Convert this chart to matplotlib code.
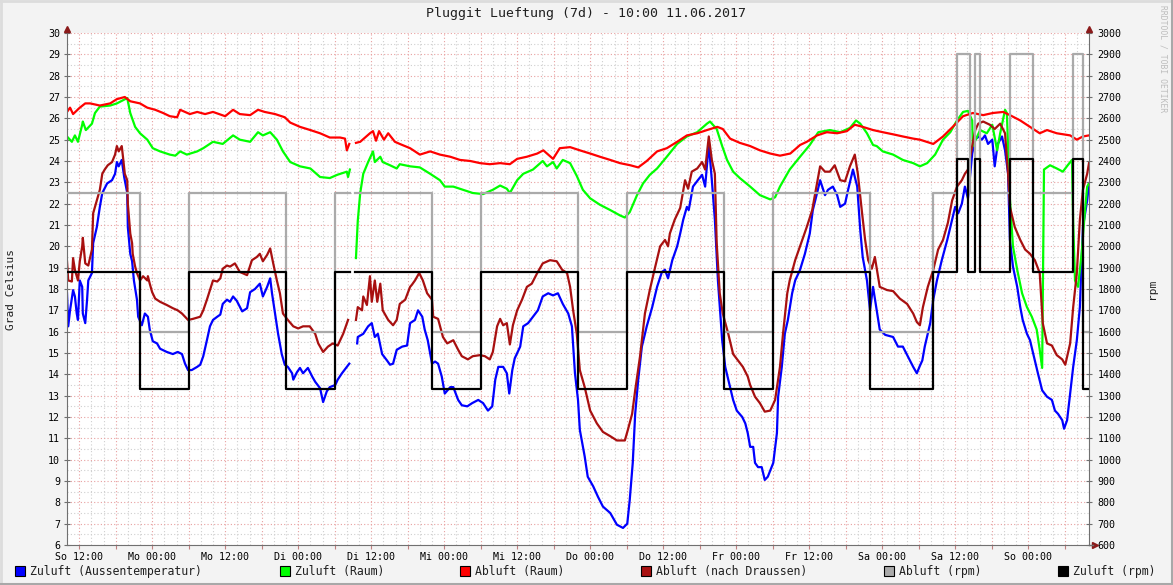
import numpy as np
import matplotlib
matplotlib.use('Agg')
import matplotlib.pyplot as plt
from matplotlib.patches import Rectangle
from matplotlib.lines import Line2D

nan = np.nan

# time axis: hours since So 04.06.2017 10:00 (7 days, 168 h)
tick_labels = ['So 12:00', 'Mo 00:00', 'Mo 12:00', 'Di 00:00', 'Di 12:00', 'Mi 00:00', 'Mi 12:00',
               'Do 00:00', 'Do 12:00', 'Fr 00:00', 'Fr 12:00', 'Sa 00:00', 'Sa 12:00', 'So 00:00']

# Zuluft (Aussentemperatur) in Grad Celsius
blue_t = [0, 0.2, 0.5, 1.0, 1.3, 1.6, 1.8, 2.1, 2.5, 2.6,
          3.0, 3.3, 3.5, 4.1, 4.3, 4.9, 5.4, 5.8, 6.6, 7.4,
          7.9, 8.2, 8.5, 9.0, 9.4, 9.9, 10.0, 10.4, 10.7, 11.0,
          11.5, 11.7, 12.3, 12.8, 13.3, 13.6, 14.1, 14.8, 15.3, 16.4,
          17.4, 18.2, 18.9, 19.4, 19.9, 20.5, 21.4, 21.9, 22.4, 23.0,
          23.5, 24.0, 24.7, 25.2, 25.6, 26.3, 26.8, 27.3, 27.9, 28.8,
          29.6, 30.1, 30.9, 31.7, 32.2, 32.9, 33.4, 33.7, 34.2, 34.7,
          35.3, 35.8, 36.3, 37.0, 37.2, 37.8, 38.3, 38.8, 39.6, 40.3,
          40.8, 41.6, 42.1, 42.7, 43.2, 44.1, 44.5, 45.2, 46.0, 46.4,
          47.0, 47.7, 47.8, 48.7, 49.5, 50.1, 50.6, 51.1, 51.8, 52.6,
          53.1, 53.6, 54.2, 55.1, 55.9, 56.4, 57.2, 57.7, 58.4, 58.8,
          59.3, 60.0, 60.5, 61.0, 61.6, 62.1, 63.0, 63.5, 64.3, 64.9,
          65.8, 66.6, 67.6, 68.4, 69.2, 69.9, 70.4, 70.9, 71.7, 72.3,
          72.7, 73.2, 73.6, 74.5, 75.0, 75.8, 76.6, 77.4, 78.2, 79.1,
          79.9, 80.7, 81.5, 82.4, 83.0, 83.5, 84.0, 84.3, 85.1, 85.6,
          86.5, 87.3, 88.1, 89.3, 90.4, 91.4, 92.1, 92.5, 93.0, 93.4,
          93.9, 94.5, 95.3, 96.2, 97.0, 97.8, 98.3, 98.8, 99.5, 100.3,
          100.8, 101.3, 101.9, 102.2, 102.9, 103.7, 104.4, 104.9, 105.5, 106.0,
          106.5, 107.0, 107.7, 108.2, 108.7, 109.5, 110.1, 111.0, 111.5, 111.9,
          112.3, 112.8, 113.1, 113.6, 114.2, 114.7, 115.2, 116.1, 116.7, 116.9,
          117.5, 118.0, 118.5, 119.2, 119.7, 120.5, 121.3, 122.1, 122.6, 123.3,
          123.8, 124.6, 125.1, 125.9, 126.6, 127.1, 127.9, 128.4, 129.2, 129.9,
          130.4, 130.8, 131.5, 132.0, 132.5, 133.1, 133.6, 134.5, 135.8, 136.6,
          137.4, 138.2, 139.1, 139.7, 140.2, 140.6, 141.0, 141.9, 142.4, 143.0,
          143.8, 144.7, 145.5, 146.0, 146.5, 147.1, 147.6, 148.1, 148.8, 149.3,
          149.8, 150.4, 150.9, 151.4, 152.1, 152.5, 153.0, 153.7, 154.2, 154.7,
          155.0, 155.5, 156.2, 156.7, 157.1, 157.8, 158.3, 159.1, 159.6, 160.3,
          161.1, 161.9, 162.4, 162.9, 163.6, 163.9, 164.4, 164.9, 165.4, 166.0,
          166.5, 167.0, 167.7, 168.0]
blue = [17.8, 16.25, 17.0, 17.95, 17.65, 16.85, 16.55, 18.4, 18.1, 16.85,
        16.4, 17.5, 18.4, 18.75, 20.15, 20.9, 21.85, 22.5, 22.95, 23.1,
        23.4, 23.95, 23.75, 24.05, 23.25, 22.5, 20.9, 19.65, 19.3, 18.4,
        17.5, 16.7, 16.3, 16.85, 16.7, 16.1, 15.55, 15.45, 15.2, 15.05,
        14.95, 15.05, 14.95, 14.5, 14.2, 14.2, 14.35, 14.45, 14.85, 15.6,
        16.25, 16.55, 16.7, 16.8, 17.3, 17.5, 17.4, 17.65, 17.45, 16.95,
        17.1, 17.85, 18.0, 18.25, 17.65, 18.1, 18.5, 17.8, 16.85, 15.9,
        14.95, 14.45, 14.35, 14.05, 13.75, 14.1, 14.3, 14.05, 14.3, 13.9,
        13.65, 13.35, 12.7, 13.2, 13.4, 13.5, 13.75, 14.05, 14.35, 14.5,
        nan, 15.45, 15.75, 15.9, 16.25, 16.4, 15.75, 15.9, 14.95, 14.65,
        14.45, 14.5, 15.15, 15.3, 15.35, 16.4, 16.55, 17.0, 16.7, 16.1,
        15.6, 14.5, 14.6, 14.5, 13.9, 13.1, 13.4, 13.4, 12.8, 12.55,
        12.5, 12.65, 12.8, 12.65, 12.3, 12.5, 13.75, 14.35, 14.35, 14.05,
        13.1, 14.2, 14.75, 15.3, 16.25, 16.4, 16.7, 17.0, 17.65, 17.8,
        17.7, 17.8, 17.3, 16.85, 16.25, 14.05, 12.8, 11.4, 10.15, 9.2,
        8.75, 8.25, 7.8, 7.5, 6.95, 6.8, 7.0, 8.1, 9.85, 12.15,
        13.75, 15.3, 16.25, 17.15, 18.1, 18.8, 18.9, 18.5, 19.35, 20.0,
        20.6, 21.25, 21.85, 21.7, 22.8, 23.1, 23.35, 22.8, 24.8, 23.1,
        21.25, 18.4, 15.6, 14.35, 13.75, 12.8, 12.3, 12.0, 11.7, 11.25,
        10.6, 10.6, 9.85, 9.65, 9.65, 9.05, 9.2, 9.85, 11.25, 12.95,
        14.35, 15.9, 16.55, 17.8, 18.4, 18.9, 19.65, 20.6, 21.7, 22.5,
        23.1, 22.4, 22.65, 22.8, 22.4, 21.85, 22.0, 22.65, 23.6, 22.8,
        20.75, 19.5, 18.4, 17.0, 18.1, 17.0, 16.1, 15.85, 15.75, 15.3,
        15.3, 14.85, 14.35, 14.05, 14.4, 14.65, 15.3, 16.4, 17.5, 18.4,
        19.35, 20.3, 21.25, 21.85, 21.55, 22.0, 22.8, 22.25, 24.35, 25.0,
        25.15, 25.0, 25.2, 24.8, 25.0, 23.75, 24.8, 25.15, 24.5, 23.4,
        20.3, 19.05, 18.1, 17.15, 16.55, 15.9, 15.6, 14.65, 14.05, 13.25,
        12.95, 12.8, 12.3, 12.15, 11.85, 11.45, 11.85, 13.1, 14.35, 15.6,
        17.15, 20.9, 22.15, 22.95]

# Zuluft (Raum)
green_t = [0, 0.8, 1.3, 1.8, 2.5, 2.6, 3.1, 4.1, 4.6, 5.4,
           7.1, 8.2, 9.2, 9.9, 10.4, 11.2, 12.0, 13.2, 14.1, 15.3,
           16.9, 17.8, 18.6, 19.7, 21.4, 22.4, 24.0, 25.6, 27.3, 28.4,
           30.1, 31.4, 32.2, 33.4, 34.5, 35.5, 36.7, 38.3, 40.0, 41.6,
           43.2, 44.4, 46.0, 46.2, 46.5, 47.0, 47.5, 47.8, 48.2, 48.7,
           49.5, 50.3, 50.6, 51.5, 51.9, 53.1, 54.2, 54.7, 56.4, 58.0,
           59.7, 61.3, 62.1, 63.5, 65.1, 66.7, 68.4, 70.0, 71.2, 72.3,
           72.8, 74.0, 75.0, 76.6, 78.2, 78.9, 79.9, 80.5, 81.5, 82.7,
           83.8, 84.8, 86.0, 87.6, 89.3, 90.9, 91.7, 92.5, 93.7, 94.7,
           95.8, 97.0, 98.6, 100.3, 101.9, 103.6, 105.2, 105.7, 106.8, 107.7,
           108.5, 109.5, 110.6, 112.3, 113.9, 115.6, 116.4, 117.2, 118.8, 120.5,
           122.1, 123.5, 125.4, 127.1, 128.7, 129.7, 130.4, 131.5, 132.5, 133.1,
           134.1, 135.8, 137.4, 139.1, 140.2, 141.4, 142.7, 144.0, 145.2, 146.3,
           147.3, 148.1, 148.8, 148.9, 150.1, 151.2, 152.1, 152.9, 153.4, 154.2,
           154.5, 155.0, 155.5, 156.2, 157.0, 157.8, 158.6, 159.4, 159.9, 160.3,
           160.6, 161.6, 162.7, 163.7, 164.5, 165.2, 165.4, 165.7, 166.2, 166.8,
           167.3, 167.7, 168.0]
green = [25.15, 24.9, 25.2, 24.9, 25.7, 25.85, 25.45, 25.75, 26.25, 26.55,
         26.6, 26.7, 26.85, 26.95, 26.25, 25.6, 25.3, 25.0, 24.6, 24.45,
         24.3, 24.25, 24.45, 24.3, 24.45, 24.6, 24.9, 24.8, 25.2, 25.0,
         24.9, 25.35, 25.2, 25.35, 25.0, 24.45, 23.95, 23.75, 23.65, 23.25,
         23.2, 23.35, 23.5, 23.25, 23.6, nan, 19.45, 21.2, 22.5, 23.4,
         23.95, 24.45, 23.95, 24.2, 23.95, 23.8, 23.65, 23.85, 23.75, 23.7,
         23.4, 23.1, 22.8, 22.8, 22.65, 22.5, 22.45, 22.65, 22.85, 22.7,
         22.5, 23.1, 23.4, 23.6, 24.0, 23.75, 23.95, 23.65, 24.05, 23.9,
         23.3, 22.65, 22.25, 21.95, 21.7, 21.45, 21.35, 21.6, 22.4, 22.95,
         23.35, 23.65, 24.2, 24.8, 25.15, 25.35, 25.75, 25.85, 25.5, 24.7,
         24.05, 23.5, 23.2, 22.8, 22.4, 22.2, 22.3, 22.8, 23.6, 24.2,
         24.75, 25.35, 25.45, 25.35, 25.55, 25.9, 25.75, 25.3, 24.75, 24.7,
         24.45, 24.3, 24.05, 23.9, 23.75, 23.9, 24.3, 25.0, 25.35, 25.9,
         26.3, 26.35, 25.9, 24.7, 25.45, 25.3, 25.7, 24.5, 25.3, 26.4,
         26.25, 22.2, 20.0, 18.9, 17.8, 17.15, 16.7, 16.1, 15.15, 14.3,
         23.6, 23.8, 23.65, 23.5, 23.8, 24.05, 21.1, 18.4, 18.1, 19.7,
         21.55, 22.8, 22.95]

# Abluft (Raum)
red_t = [0, 0.5, 1.0, 2.1, 3.0, 3.8, 5.4, 7.1, 8.2, 9.5,
         10.4, 12.0, 13.2, 14.5, 15.8, 16.9, 18.1, 18.6, 20.2, 21.4,
         22.7, 24.0, 26.0, 27.3, 28.4, 30.1, 31.4, 32.5, 34.2, 35.8,
         36.7, 38.3, 40.0, 41.6, 43.2, 44.9, 45.7, 46.0, 46.4, 47.0,
         47.5, 48.2, 49.8, 50.3, 50.8, 51.3, 52.1, 52.8, 53.9, 54.7,
         56.4, 58.0, 59.7, 61.3, 63.0, 64.6, 66.3, 67.9, 69.5, 71.2,
         72.8, 74.0, 75.6, 77.3, 78.3, 79.9, 81.0, 82.7, 84.3, 86.0,
         87.6, 89.3, 90.9, 92.6, 93.9, 95.3, 97.0, 98.6, 100.3, 101.9,
         103.6, 105.2, 106.9, 107.8, 109.0, 110.6, 112.3, 113.9, 115.6, 117.2,
         118.9, 120.5, 121.6, 123.3, 124.9, 126.6, 128.2, 129.5, 130.8, 132.5,
         134.1, 135.8, 137.4, 139.1, 140.2, 142.4, 144.0, 145.6, 147.3, 148.9,
         150.6, 152.2, 153.9, 155.0, 156.7, 158.3, 159.9, 161.1, 162.7, 164.9,
         166.0, 167.0, 168.0]
red = [26.3, 26.5, 26.2, 26.5, 26.7, 26.7, 26.6, 26.7, 26.9, 27.0,
       26.8, 26.7, 26.5, 26.4, 26.25, 26.1, 26.05, 26.4, 26.2, 26.3,
       26.2, 26.3, 26.1, 26.4, 26.2, 26.15, 26.4, 26.3, 26.2, 26.05,
       25.8, 25.6, 25.45, 25.3, 25.1, 25.1, 25.05, 24.5, 24.8, nan,
       24.85, 24.9, 25.3, 25.4, 24.95, 25.4, 25.0, 25.3, 24.9, 24.8,
       24.6, 24.3, 24.45, 24.3, 24.2, 24.05, 24.0, 23.9, 23.85, 23.9,
       23.85, 24.1, 24.2, 24.35, 24.5, 24.1, 24.6, 24.65, 24.5, 24.35,
       24.2, 24.05, 23.9, 23.8, 23.7, 24.0, 24.45, 24.6, 24.9, 25.2,
       25.3, 25.45, 25.6, 25.5, 25.05, 24.85, 24.7, 24.5, 24.35, 24.25,
       24.35, 24.75, 24.9, 25.2, 25.35, 25.3, 25.4, 25.7, 25.6, 25.45,
       25.35, 25.25, 25.15, 25.05, 25.0, 24.8, 25.15, 25.6, 26.1, 26.25,
       26.15, 26.25, 26.3, 26.15, 25.9, 25.6, 25.3, 25.45, 25.3, 25.2,
       25.0, 25.15, 25.2]

# Abluft (nach Draussen)
dred_t = [0, 0.2, 0.8, 1.0, 1.3, 1.6, 1.8, 2.1, 2.5, 2.6,
          3.0, 3.5, 4.1, 4.3, 4.6, 4.9, 5.4, 5.8, 6.2, 6.7,
          7.4, 7.9, 8.2, 8.5, 9.0, 9.2, 9.5, 9.9, 10.0, 10.4,
          10.7, 10.8, 11.2, 11.5, 12.0, 12.5, 13.2, 13.3, 13.6, 14.0,
          14.5, 15.3, 16.4, 17.4, 18.2, 18.9, 19.4, 19.9, 20.7, 21.9,
          22.4, 23.0, 23.5, 24.0, 24.7, 25.2, 25.6, 26.3, 26.8, 27.6,
          28.4, 29.6, 30.4, 31.2, 31.7, 32.2, 32.9, 33.4, 33.9, 34.5,
          35.0, 35.5, 36.3, 37.2, 38.0, 38.8, 39.9, 40.8, 41.3, 42.1,
          42.9, 43.7, 44.5, 45.4, 46.2, 47.0, 47.5, 47.8, 48.5, 48.7,
          49.3, 49.8, 50.1, 50.6, 51.0, 51.5, 51.9, 52.8, 53.6, 54.2,
          54.7, 55.6, 56.4, 56.7, 57.2, 57.9, 58.5, 59.2, 60.0, 60.2,
          61.0, 61.8, 62.5, 63.5, 64.3, 64.9, 65.9, 66.7, 67.9, 68.7,
          69.5, 70.0, 70.7, 71.2, 71.7, 72.3, 72.8, 73.3, 74.0, 74.8,
          75.6, 76.4, 77.3, 78.2, 79.4, 80.5, 81.4, 82.2, 82.7, 83.2,
          83.8, 84.3, 85.1, 86.0, 87.1, 88.1, 89.3, 90.4, 91.7, 92.2,
          92.9, 93.4, 94.2, 95.0, 95.8, 96.7, 97.5, 98.3, 98.8, 99.1,
          99.9, 100.8, 101.6, 102.1, 102.7, 103.6, 104.4, 104.9, 105.5, 106.0,
          106.5, 106.8, 107.3, 107.8, 108.7, 109.5, 110.3, 111.1, 111.9, 112.3,
          113.1, 113.9, 114.7, 115.6, 116.4, 117.2, 117.7, 118.4, 118.8, 119.7,
          120.5, 121.6, 122.5, 123.0, 123.8, 124.6, 125.4, 126.2, 127.1, 127.9,
          128.7, 129.5, 130.0, 130.7, 131.2, 131.7, 132.3, 132.8, 133.6, 134.8,
          135.8, 136.9, 138.1, 139.1, 139.7, 140.2, 140.7, 141.5, 142.4, 143.2,
          144.0, 144.8, 145.5, 146.3, 147.1, 147.6, 148.1, 148.8, 149.3, 149.8,
          150.6, 151.7, 152.5, 153.4, 154.2, 154.7, 155.0, 155.8, 156.7, 157.5,
          158.3, 159.1, 159.9, 160.4, 161.1, 161.9, 162.7, 163.6, 164.1, 164.9,
          165.4, 166.0, 166.5, 167.0, 167.7, 168.0]
dred = [19.3, 18.4, 18.35, 19.45, 18.9, 18.6, 18.4, 19.3, 20.0, 20.4,
        19.2, 19.1, 19.85, 21.55, 21.85, 22.15, 22.65, 23.4, 23.6, 23.8,
        23.95, 24.3, 24.7, 24.45, 24.7, 24.2, 23.4, 23.1, 22.0, 20.6,
        20.15, 19.65, 19.05, 18.75, 18.4, 18.6, 18.4, 18.6, 18.25, 17.85,
        17.55, 17.4, 17.25, 17.1, 17.0, 16.85, 16.7, 16.55, 16.6, 16.7,
        17.0, 17.5, 17.95, 18.4, 18.35, 18.5, 18.95, 19.1, 19.05, 19.2,
        18.8, 18.65, 19.35, 19.5, 19.65, 19.3, 19.6, 19.9, 19.2, 18.4,
        17.8, 16.85, 16.55, 16.25, 16.15, 16.25, 16.25, 15.9, 15.45, 15.05,
        15.3, 15.45, 15.35, 15.9, 16.55, nan, 16.55, 17.15, 17.0, 17.65,
        17.25, 18.6, 17.4, 18.4, 17.4, 18.25, 17.0, 16.55, 16.3, 16.55,
        17.3, 17.5, 18.1, 18.2, 18.4, 18.75, 18.4, 17.8, 17.5, 16.7,
        16.6, 15.75, 15.45, 15.6, 15.15, 14.85, 14.7, 14.85, 14.9, 14.85,
        14.7, 15.05, 16.25, 16.6, 16.3, 16.4, 15.4, 16.3, 17.0, 17.5,
        18.1, 18.25, 18.75, 19.2, 19.35, 19.3, 18.9, 18.75, 18.1, 17.0,
        15.9, 14.2, 13.4, 12.3, 11.7, 11.3, 11.1, 10.9, 10.9, 11.4,
        12.15, 13.25, 14.85, 16.85, 17.95, 19.05, 20.0, 20.3, 20.0, 20.6,
        21.25, 21.8, 23.1, 22.7, 23.5, 23.65, 23.95, 23.6, 25.15, 24.05,
        23.4, 20.15, 17.8, 16.85, 15.9, 14.95, 14.65, 14.35, 13.9, 13.5,
        12.95, 12.65, 12.25, 12.3, 12.8, 14.35, 15.9, 17.8, 18.4, 19.35,
        20.0, 20.9, 21.7, 22.5, 23.75, 23.5, 23.5, 23.8, 23.1, 23.05,
        23.75, 24.3, 23.4, 21.55, 20.3, 19.35, 18.95, 19.5, 18.1, 17.95,
        17.9, 17.55, 17.3, 16.85, 16.45, 16.3, 17.15, 18.1, 18.9, 19.85,
        20.3, 21.1, 22.15, 22.8, 23.1, 23.4, 23.6, 24.7, 25.45, 25.75,
        25.85, 25.7, 25.5, 25.75, 25.3, 23.4, 21.85, 20.9, 20.3, 19.85,
        19.65, 19.35, 18.75, 16.4, 15.45, 15.35, 14.9, 14.7, 14.45, 15.45,
        17.15, 18.75, 21.25, 22.65, 23.4, 23.9]

# Abluft (rpm) and Zuluft (rpm), step values
gray_t = [0, 12, 20, 36, 44, 46.5, 47.3, 60, 68, 84, 92, 108, 116, 132, 142.3,
          146.3, 148.5, 149.3, 150.1, 155.0, 158.8, 165.4, 167.0, 168]
gray = [2250, 1600, 2250, 1600, 2250, nan, 2250, 1600, 2250, 1600, 2250, 1600, 2250, 1600, 2250,
        2900, 2250, 2900, 2250, 2900, 2250, 2900, 1600, 1600]
black_t = [0, 12, 20, 36, 44, 46.5, 47.3, 60, 68, 84, 92, 108, 116, 132, 142.3,
           146.3, 148.1, 149.3, 150.1, 155.0, 158.8, 165.4, 167.0, 168]
black = [1880, 1330, 1880, 1330, 1880, nan, 1880, 1330, 1880, 1330, 1880, 1330, 1880, 1330, 1880,
         2410, 1880, 2410, 1880, 2410, 1880, 2410, 1330, 1330]

names = ['Zuluft (Aussentemperatur)', 'Zuluft (Raum)', 'Abluft (Raum)',
         'Abluft (nach Draussen)', 'Abluft (rpm)', 'Zuluft (rpm)']
colors = ['#0000FF', '#00FF00', '#FF0000', '#A81010', '#AAAAAA', '#000000']

plt.rcParams['font.family'] = ['DejaVu Sans Mono']
W, H = 1173, 585

fig = plt.figure(figsize=(W / 100, H / 100), dpi=100, facecolor='#F3F3F3')
ax = fig.add_axes([67 / W, 40 / H, 1022 / W, 512 / H])
ax.set_facecolor('white')
ax.set_xlim(0, 168)
ax.set_ylim(6, 30)

# grid: red every 6h / 1 degree, grey every 2h / 0.5 degree
major_x = np.arange(2, 168, 6)
minor_x = [h for h in range(0, 169, 2) if (h - 2) % 6 != 0]
ax.set_xticks(major_x)
ax.set_xticks(minor_x, minor=True)
lab = []
for i in range(len(major_x)):
    lab.append(tick_labels[i // 2] if i % 2 == 0 else '')
ax.set_xticklabels(lab)
ax.set_yticks(np.arange(6, 31, 1))
ax.set_yticks(np.arange(6.5, 30, 1), minor=True)
ax.grid(which='minor', color='#CFCFCF', linestyle=(0, (1, 2)), linewidth=0.8)
ax.grid(which='major', color='#E8A0A0', linestyle=(0, (1, 2)), linewidth=0.8)
ax.set_axisbelow(True)
ax.tick_params(which='minor', length=0)
ax.tick_params(axis='x', which='major', length=3, direction='out', color='#C08080',
               labelsize=7.2, pad=2)
ax.tick_params(axis='y', which='major', length=4, direction='inout', color='#707070',
               labelsize=7.2, pad=3)

for s in ['top', 'right']:
    ax.spines[s].set_visible(False)
for s in ['left', 'bottom']:
    ax.spines[s].set_color('#707070')

ax.plot(blue_t, blue, color=colors[0], lw=1.6)
ax.plot(green_t, green, color=colors[1], lw=1.6)
ax.plot(red_t, red, color=colors[2], lw=1.6)
ax.plot(dred_t, dred, color=colors[3], lw=1.6)

ax2 = ax.twinx()
ax2.set_ylim(600, 3000)
ax2.set_yticks(np.arange(600, 3001, 100))
ax2.tick_params(axis='y', length=4, direction='inout', color='#707070', labelsize=7.2, pad=4)
for s in ['top', 'left', 'bottom']:
    ax2.spines[s].set_visible(False)
ax2.spines['right'].set_color('#707070')
ax2.plot(gray_t, gray, color=colors[4], lw=1.6, drawstyle='steps-post')
ax2.plot(black_t, black, color=colors[5], lw=1.6, drawstyle='steps-post')

# axis arrows
arrow_c = '#8B1A1A'
fig.add_artist(Line2D([67 / W], [1 - 29 / H], marker='^', color=arrow_c, markersize=4))
fig.add_artist(Line2D([1089 / W], [1 - 29 / H], marker='^', color=arrow_c, markersize=4))
fig.add_artist(Line2D([1095 / W], [40 / H], marker='>', color=arrow_c, markersize=4))
fig.add_artist(Line2D([1089 / W, 1093 / W], [40 / H, 40 / H], color='#707070', lw=1))

# texts
fig.text(586 / W, 1 - 14 / H, 'Pluggit Lueftung (7d) - 10:00 11.06.2017',
         ha='center', va='center', fontsize=9.5, color='#202020')
fig.text(11 / W, 1 - 289 / H, 'Grad Celsius', rotation=90, ha='center', va='center',
         fontsize=8, color='#202020')
fig.text(1152 / W, 1 - 289 / H, 'rpm', rotation=90, ha='center', va='center',
         fontsize=8, color='#202020')
fig.text(1163 / W, 1 - 5 / H, 'RRDTOOL / TOBI OETIKER', rotation=270, ha='center', va='top',
         fontsize=5.8, color='#BDBDBD')

# legend
leg_x = [15, 280, 460, 641, 884, 1058]
for x, c, n in zip(leg_x, colors, names):
    fig.add_artist(Rectangle((x / W, 1 - 576 / H), 10 / W, 10 / H, facecolor=c,
                             edgecolor='black', linewidth=0.8))
    fig.text((x + 15) / W, 1 - 571 / H, n, ha='left', va='center', fontsize=8.3, color='#202020')

# frame shading
fig.add_artist(Line2D([0, 1], [1 - 1 / H, 1 - 1 / H], color='#DCDCDC', lw=2))
fig.add_artist(Line2D([1 / W, 1 / W], [0, 1], color='#DCDCDC', lw=2))
fig.add_artist(Line2D([0, 1], [1.5 / H, 1.5 / H], color='#A8A8A8', lw=2.2))
fig.add_artist(Line2D([1 - 1.5 / W, 1 - 1.5 / W], [0, 1], color='#A8A8A8', lw=2.2))

fig.savefig('out.png', dpi=100, facecolor=fig.get_facecolor())
